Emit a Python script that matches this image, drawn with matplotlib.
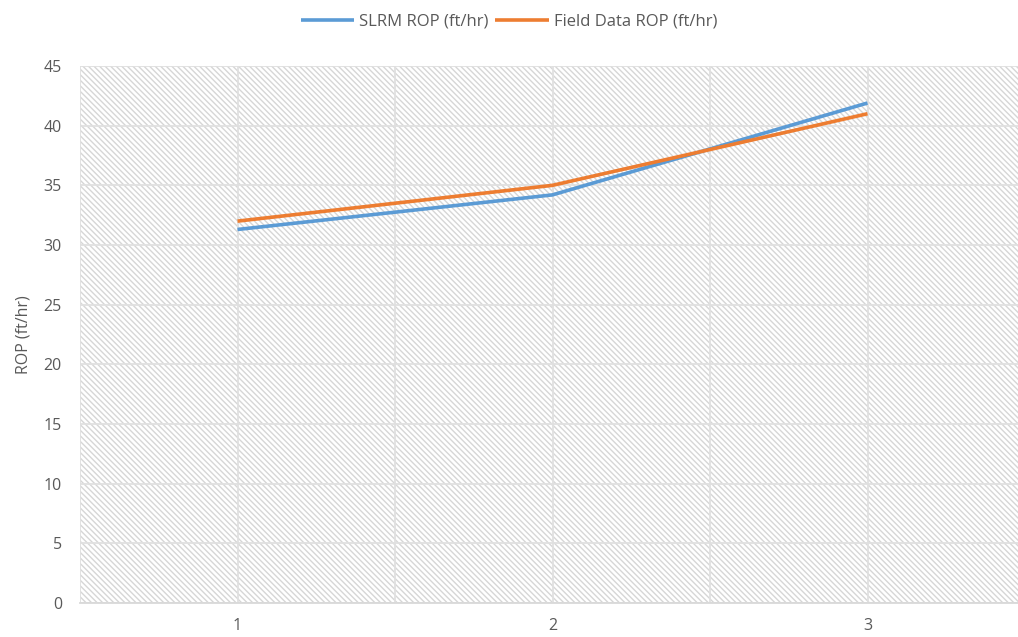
import matplotlib
matplotlib.use("Agg")
import matplotlib.pyplot as plt
from matplotlib.patches import Rectangle

# datos
categorias = [1, 2, 3]
slrm_rop = [31.3, 34.2, 41.9]
campo_rop = [32.0, 35.0, 41.0]
etiquetas_y = [0, 5, 10, 15, 20, 25, 30, 35, 40, 45]

plt.rcParams['font.family'] = ['Open Sans', 'DejaVu Sans']
plt.rcParams['hatch.color'] = '#d6d6d6'
plt.rcParams['hatch.linewidth'] = 1.0

W, H = 1018, 637
fig = plt.figure(figsize=(W / 100, H / 100), dpi=100)
ax = fig.add_axes([80 / W, 1 - 603 / H, 938 / W, (603 - 66) / H])

# fondo rayado del area de trazado
ax.add_patch(Rectangle((0, 0), 1, 1, transform=ax.transAxes, facecolor='white',
                       edgecolor='#d6d6d6', hatch='\\' * 6, linewidth=0, zorder=0))

x_max = 0.5 + 938 / 315
ax.set_xlim(0.5, x_max)
ax.set_ylim(0, 45)

# rejilla cada media categoria y cada 5 unidades
for xv in [0.5, 1, 1.5, 2, 2.5, 3, 3.5]:
    ax.axvline(xv, color='#e0e0e0', linewidth=1.3, zorder=1)
for yv in etiquetas_y:
    ax.axhline(yv, color='#e0e0e0', linewidth=1.3, zorder=1)

ax.plot(categorias, slrm_rop, color='#5b9bd5', linewidth=2.6, label='SLRM ROP (ft/hr)',
        zorder=3, solid_capstyle='butt')
ax.plot(categorias, campo_rop, color='#ed7d31', linewidth=2.6, label='Field Data ROP (ft/hr)',
        zorder=3, solid_capstyle='butt')

ax.set_xticks(categorias)
ax.set_yticks(etiquetas_y)
ax.tick_params(axis='both', length=0, labelsize=11.5, labelcolor='#595959')
ax.tick_params(axis='x', pad=11)
ax.tick_params(axis='y', pad=13)
for s in ['top', 'right', 'left']:
    ax.spines[s].set_visible(False)
ax.spines['bottom'].set_color('#d9d9d9')
ax.spines['bottom'].set_linewidth(1.3)

ax.set_ylabel('ROP (ft/hr)', fontsize=11.5, color='#595959', labelpad=9)

fig.legend(loc='center', bbox_to_anchor=(0.5, 1 - 22 / H), ncol=2, frameon=False,
           fontsize=12, labelcolor='#595959', handlelength=3.2, handletextpad=0.3,
           columnspacing=0.4)

fig.savefig('out.png', dpi=100)
